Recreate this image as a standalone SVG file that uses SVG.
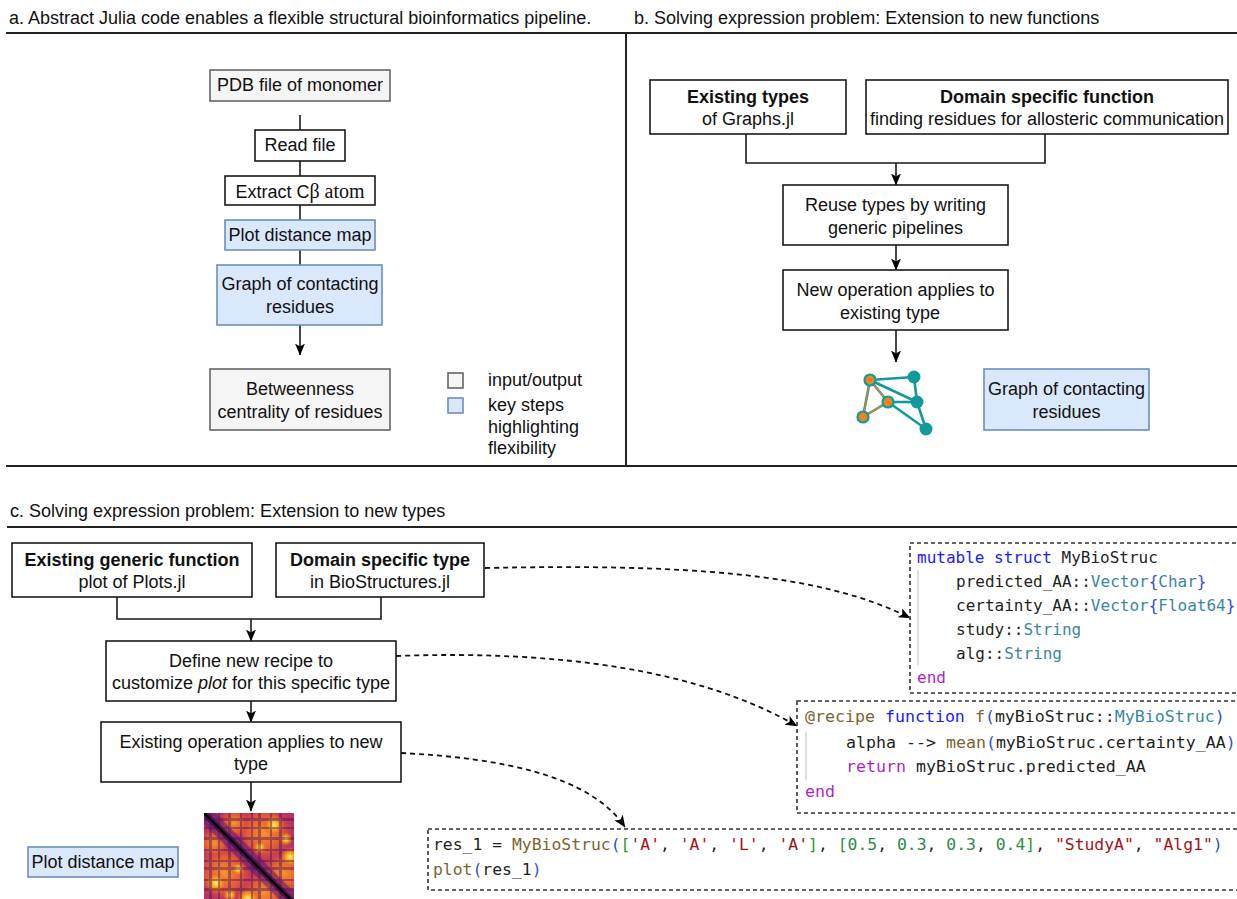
<svg xmlns="http://www.w3.org/2000/svg" width="1237" height="899" viewBox="0 0 1237 899">
<defs>
<style>
.box{fill:#fff;stroke:#1a1a1a;stroke-width:1.6}
.io{fill:#f5f5f5;stroke:#666;stroke-width:1.6}
.key{fill:#dae8fc;stroke:#6c8ebf;stroke-width:1.6}
.t{font-family:"Liberation Sans",Arial,sans-serif;font-size:18px;fill:#111;text-anchor:middle}
.tl{font-family:"Liberation Sans",Arial,sans-serif;font-size:18px;fill:#111}
.title{font-family:"Liberation Sans",Arial,sans-serif;font-size:18px;fill:#111}
.b{font-weight:bold}
.conn{fill:none;stroke:#1a1a1a;stroke-width:1.6}
.dash{fill:none;stroke:#111;stroke-width:1.8;stroke-dasharray:5 4}
.div{stroke:#222;stroke-width:2;fill:none}
.code{font-family:"DejaVu Sans Mono",monospace;fill:#1f1f1f;white-space:pre}
.codebox{fill:#fff;stroke:#333;stroke-width:1.6;stroke-dasharray:4 3}
.guide{stroke:#d4d4d4;stroke-width:1.5}
.kw{fill:#1a1aff}
.ctl{fill:#af1fd0}
.fn{fill:#7a6530}
.ty{fill:#3a87a3}
.b1{fill:#2f4fe0}
.b2{fill:#319331}
.str{fill:#a31515}
.num{fill:#2e8a4e}
.edge{stroke:#129a9b;stroke-width:2.6}
.oedge{stroke:#f4821f;stroke-width:1.2}
.tn{fill:#129a9b}
.on{fill:#f4821f;stroke:#129a9b;stroke-width:2.2}
</style>
<marker id="arr" viewBox="0 0 12 10" refX="11.5" refY="5" markerWidth="12" markerHeight="10" markerUnits="userSpaceOnUse" orient="auto">
<path d="M0,0 L12,5 L0,10 L3,5 Z" fill="#000"/>
</marker>
<radialGradient id="blob">
<stop offset="0" stop-color="#fcf08a"/>
<stop offset="0.35" stop-color="#fbb31a"/>
<stop offset="0.7" stop-color="#f07a26" stop-opacity="0.7"/>
<stop offset="1" stop-color="#e0572e" stop-opacity="0"/>
</radialGradient>
<radialGradient id="oblob">
<stop offset="0" stop-color="#f9952a"/>
<stop offset="0.6" stop-color="#e8602f" stop-opacity="0.85"/>
<stop offset="1" stop-color="#c73e4c" stop-opacity="0"/>
</radialGradient>
<clipPath id="hmclip"><rect x="0" y="0" width="90" height="86"/></clipPath>
</defs>

<rect x="0" y="0" width="1237" height="899" fill="#fff"/>

<!-- panel frames -->
<g id="frames">
<line class="div" x1="6" y1="33" x2="1237" y2="33"/>
<line class="div" x1="626" y1="33" x2="626" y2="466"/>
<line class="div" x1="6" y1="466" x2="1237" y2="466"/>
<line class="div" x1="7" y1="527" x2="1237" y2="527"/>
<text class="title" x="9" y="24">a. Abstract Julia code enables a flexible structural bioinformatics pipeline.</text>
<text class="title" x="634" y="24">b. Solving expression problem: Extension to new functions</text>
<text class="title" x="10" y="517">c. Solving expression problem: Extension to new types</text>
</g>

<!-- connectors -->
<g id="connectors">
<line class="conn" x1="300" y1="115" x2="300" y2="130"/>
<line class="conn" x1="300" y1="161" x2="300" y2="176"/>
<line class="conn" x1="300" y1="205" x2="300" y2="220"/>
<line class="conn" x1="300" y1="250" x2="300" y2="265"/>
<line class="conn" x1="300" y1="325" x2="300" y2="355" marker-end="url(#arr)"/>
<polyline class="conn" points="746,134 746,163 1045,163 1045,134"/>
<line class="conn" x1="896" y1="163" x2="896" y2="185" marker-end="url(#arr)"/>
<line class="conn" x1="896" y1="245" x2="896" y2="270" marker-end="url(#arr)"/>
<line class="conn" x1="896" y1="330" x2="896" y2="362" marker-end="url(#arr)"/>
<polyline class="conn" points="117,597 117,619 381,619 381,597"/>
<line class="conn" x1="251" y1="619" x2="251" y2="641" marker-end="url(#arr)"/>
<line class="conn" x1="251" y1="701" x2="251" y2="722" marker-end="url(#arr)"/>
<line class="conn" x1="251" y1="782" x2="251" y2="811" marker-end="url(#arr)"/>
<path class="dash" d="M485,568 C680,564 820,572 910,618" marker-end="url(#arr)"/>
<path class="dash" d="M396,656 C560,650 700,670 797,726" marker-end="url(#arr)"/>
<path class="dash" d="M401,753 C500,758 590,775 625,827" marker-end="url(#arr)"/>
</g>

<!-- panel a nodes -->
<g id="a-pdb">
<rect class="io" x="210" y="70" width="180" height="31"/>
<text class="t" x="300" y="91">PDB file of monomer</text>
</g>
<g id="a-read">
<rect class="box" x="255" y="130" width="90" height="31"/>
<text class="t" x="300" y="151">Read file</text>
</g>
<g id="a-extract">
<rect class="box" x="225" y="176" width="150" height="29"/>
<text class="t" x="300" y="198">Extract C<tspan font-family="'Liberation Serif','Times New Roman',serif" font-size="20">β atom</tspan></text>
</g>
<g id="a-plot">
<rect class="key" x="225" y="220" width="150" height="30"/>
<text class="t" x="300" y="241">Plot distance map</text>
</g>
<g id="a-graph">
<rect class="key" x="217" y="265" width="165" height="60"/>
<text class="t" x="300" y="290">Graph of contacting</text>
<text class="t" x="300" y="313">residues</text>
</g>
<g id="a-betweenness">
<rect class="io" x="210" y="369" width="180" height="61"/>
<text class="t" x="300" y="395">Betweenness</text>
<text class="t" x="300" y="418">centrality of residues</text>
</g>
<g id="a-legend">
<rect class="io" x="448" y="373" width="15" height="15"/>
<rect class="key" x="448" y="398" width="15" height="15"/>
<text class="tl" x="488" y="386">input/output</text>
<text class="tl" x="488" y="411">key steps</text>
<text class="tl" x="488" y="433">highlighting</text>
<text class="tl" x="488" y="454">flexibility</text>
</g>

<!-- panel b nodes -->
<g id="b-types">
<rect class="box" x="650" y="80" width="196" height="54"/>
<text class="t b" x="748" y="103">Existing types</text>
<text class="t" x="748" y="125">of Graphs.jl</text>
</g>
<g id="b-function">
<rect class="box" x="866" y="80" width="362" height="54"/>
<text class="t b" x="1047" y="103">Domain specific function</text>
<text class="t" x="1047" y="125">finding residues for allosteric communication</text>
</g>
<g id="b-reuse">
<rect class="box" x="783" y="185" width="225" height="60"/>
<text class="t" x="895.5" y="211">Reuse types by writing</text>
<text class="t" x="895.5" y="234">generic pipelines</text>
</g>
<g id="b-newop">
<rect class="box" x="783" y="270" width="225" height="60"/>
<text class="t" x="895.5" y="296">New operation applies to</text>
<text class="t" x="890" y="319">existing type</text>
</g>
<g id="b-graph-icon">
<line class="edge" x1="870" y1="380" x2="914" y2="377"/>
<line class="edge" x1="870" y1="380" x2="917" y2="402"/>
<line class="edge" x1="888" y1="402" x2="917" y2="402"/>
<line class="edge" x1="914" y1="377" x2="917" y2="402"/>
<line class="edge" x1="917" y1="402" x2="926" y2="429"/>
<line class="edge" x1="888" y1="402" x2="926" y2="429"/>
<line class="edge" x1="870" y1="380" x2="888" y2="402"/>
<line class="edge" x1="888" y1="402" x2="863" y2="417"/>
<line class="edge" x1="870" y1="380" x2="863" y2="417"/>
<line class="oedge" x1="870" y1="380" x2="888" y2="402"/>
<line class="oedge" x1="888" y1="402" x2="863" y2="417"/>
<line class="oedge" x1="870" y1="380" x2="863" y2="417"/>
<circle class="tn" cx="914" cy="377" r="6.5"/>
<circle class="tn" cx="917" cy="402" r="6.5"/>
<circle class="tn" cx="926" cy="429" r="6.5"/>
<circle class="on" cx="870" cy="380" r="5.5"/>
<circle class="on" cx="888" cy="402" r="5.5"/>
<circle class="on" cx="863" cy="417" r="5.5"/>
</g>
<g id="b-graph-label">
<rect class="key" x="984" y="369" width="165" height="61"/>
<text class="t" x="1066.5" y="395">Graph of contacting</text>
<text class="t" x="1066.5" y="418">residues</text>
</g>

<!-- panel c nodes -->
<g id="c-generic">
<rect class="box" x="12" y="543" width="240" height="54"/>
<text class="t b" x="132" y="566">Existing generic function</text>
<text class="t" x="132" y="588">plot of Plots.jl</text>
</g>
<g id="c-domain-type">
<rect class="box" x="276" y="543" width="208" height="54"/>
<text class="t b" x="380" y="566">Domain specific type</text>
<text class="t" x="380" y="588">in BioStructures.jl</text>
</g>
<g id="c-recipe">
<rect class="box" x="106" y="641" width="290" height="60"/>
<text class="t" x="251" y="667">Define new recipe to</text>
<text class="t" x="251" y="689">customize <tspan font-style="italic">plot</tspan> for this specific type</text>
</g>
<g id="c-existing-op">
<rect class="box" x="101" y="722" width="300" height="60"/>
<text class="t" x="251" y="748">Existing operation applies to new</text>
<text class="t" x="251" y="770">type</text>
</g>
<g id="c-distance-map-image" transform="translate(204,813)">
<g clip-path="url(#hmclip)">
<rect x="0" y="0" width="90" height="90" fill="#b8345f"/>
<circle cx="60" cy="20" r="30" fill="url(#oblob)"/>
<circle cx="20" cy="60" r="30" fill="url(#oblob)"/>
<circle cx="80" cy="60" r="24" fill="url(#oblob)"/>
<circle cx="60" cy="80" r="24" fill="url(#oblob)"/>
<circle cx="10" cy="30" r="16" fill="url(#oblob)"/>
<circle cx="30" cy="10" r="16" fill="url(#oblob)"/>
<circle cx="70" cy="12" r="11" fill="url(#blob)"/>
<circle cx="12" cy="70" r="11" fill="url(#blob)"/>
<circle cx="86" cy="44" r="10" fill="url(#blob)"/>
<circle cx="44" cy="86" r="12" fill="url(#blob)"/>
<circle cx="56" cy="34" r="7" fill="url(#blob)"/>
<circle cx="34" cy="56" r="7" fill="url(#blob)"/>
<circle cx="26" cy="82" r="7" fill="url(#blob)"/>
<circle cx="82" cy="26" r="7" fill="url(#blob)"/>
<g fill="#3d0965" opacity="0.4">
<rect x="5" y="0" width="3" height="90"/><rect x="14" y="0" width="2" height="90"/><rect x="24" y="0" width="3" height="90"/><rect x="36" y="0" width="2" height="90"/><rect x="47" y="0" width="2" height="90"/><rect x="54" y="0" width="3" height="90"/><rect x="66" y="0" width="2" height="90"/><rect x="75" y="0" width="3" height="90"/>
<rect y="5" x="0" height="3" width="90"/><rect y="14" x="0" height="2" width="90"/><rect y="24" x="0" height="3" width="90"/><rect y="36" x="0" height="2" width="90"/><rect y="47" x="0" height="2" width="90"/><rect y="54" x="0" height="3" width="90"/><rect y="66" x="0" height="2" width="90"/><rect y="75" x="0" height="3" width="90"/>
</g>
<line x1="0" y1="0" x2="90" y2="90" stroke="#5a1470" stroke-width="16" opacity="0.5"/>
<line x1="0" y1="0" x2="90" y2="90" stroke="#2a0a45" stroke-width="6" opacity="0.7"/>
<line x1="0" y1="0" x2="90" y2="90" stroke="#000" stroke-width="2.2"/>
</g>
</g>
<g id="c-plot-label">
<rect class="key" x="28" y="847" width="150" height="30"/>
<text class="t" x="103" y="868">Plot distance map</text>
</g>

<!-- code boxes -->
<g id="c-code-struct">
<rect class="codebox" x="910" y="543" width="340" height="150"/>
<line class="guide" x1="918" y1="570" x2="918" y2="665"/>
<text class="code" font-size="16" x="917" y="563"><tspan class="kw">mutable struct</tspan> MyBioStruc</text>
<text class="code" font-size="16" x="956" y="587">predicted_AA::<tspan class="ty">Vector</tspan><tspan class="b1">{</tspan><tspan class="ty">Char</tspan><tspan class="b1">}</tspan></text>
<text class="code" font-size="16" x="956" y="611">certainty_AA::<tspan class="ty">Vector</tspan><tspan class="b1">{</tspan><tspan class="ty">Float64</tspan><tspan class="b1">}</tspan></text>
<text class="code" font-size="16" x="956" y="635">study::<tspan class="ty">String</tspan></text>
<text class="code" font-size="16" x="956" y="659">alg::<tspan class="ty">String</tspan></text>
<text class="code" font-size="16" x="917" y="683"><tspan class="ctl">end</tspan></text>
</g>
<g id="c-code-recipe">
<rect class="codebox" x="797" y="701" width="450" height="112"/>
<line class="guide" x1="806" y1="732" x2="806" y2="780"/>
<text class="code" font-size="16.6" x="805" y="722"><tspan class="fn">@recipe</tspan> <tspan class="kw">function</tspan> <tspan class="fn">f</tspan><tspan class="b1">(</tspan>myBioStruc::<tspan class="ty">MyBioStruc</tspan><tspan class="b1">)</tspan></text>
<text class="code" font-size="16.6" x="846" y="748">alpha --&gt; <tspan class="fn">mean</tspan><tspan class="b1">(</tspan>myBioStruc.certainty_AA<tspan class="b1">)</tspan></text>
<text class="code" font-size="16.6" x="846" y="772"><tspan class="ctl">return</tspan> myBioStruc.predicted_AA</text>
<text class="code" font-size="16.6" x="805" y="797"><tspan class="ctl">end</tspan></text>
</g>
<g id="c-code-call">
<rect class="codebox" x="428" y="829" width="820" height="61"/>
<text class="code" font-size="16.4" x="433" y="850">res_1 = <tspan class="fn">MyBioStruc</tspan><tspan class="b1">(</tspan><tspan class="b2">[</tspan><tspan class="str">'A'</tspan>, <tspan class="str">'A'</tspan>, <tspan class="str">'L'</tspan>, <tspan class="str">'A'</tspan><tspan class="b2">]</tspan>, <tspan class="b2">[</tspan><tspan class="num">0.5</tspan>, <tspan class="num">0.3</tspan>, <tspan class="num">0.3</tspan>, <tspan class="num">0.4</tspan><tspan class="b2">]</tspan>, <tspan class="str">"StudyA"</tspan>, <tspan class="str">"Alg1"</tspan><tspan class="b1">)</tspan></text>
<text class="code" font-size="16.4" x="433" y="875"><tspan class="fn">plot</tspan><tspan class="b1">(</tspan>res_1<tspan class="b1">)</tspan></text>
</g>
</svg>
